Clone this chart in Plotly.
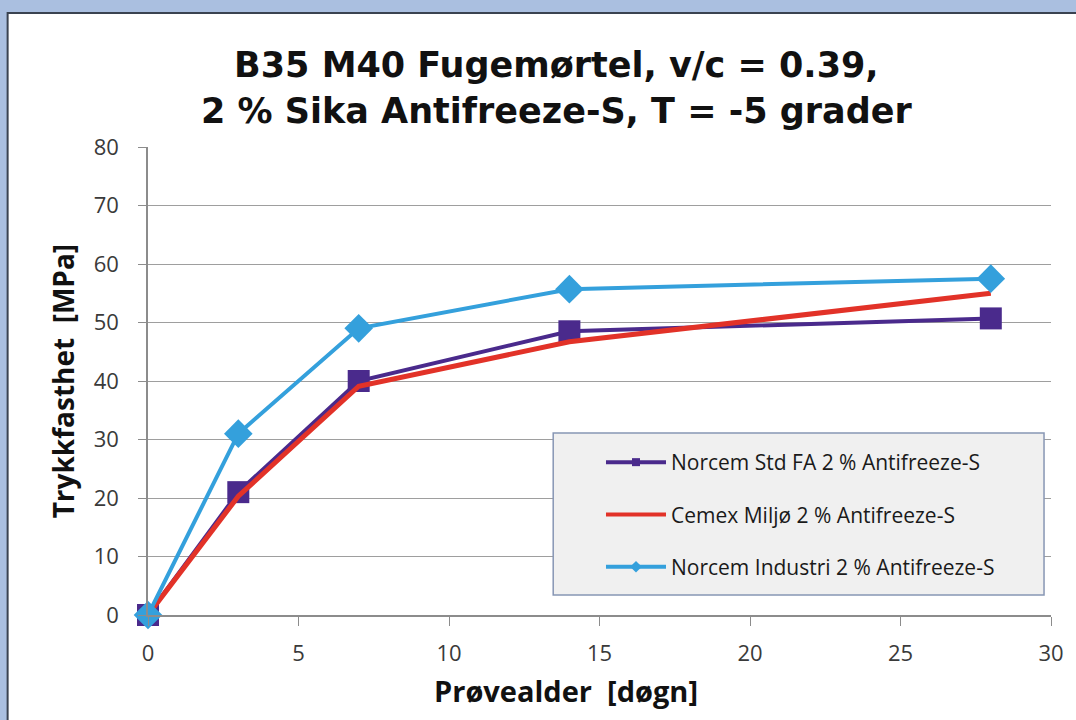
import plotly.graph_objects as go

days = [0, 3, 7, 14, 28]
norcem_std_fa = [0, 21.0, 40.0, 48.5, 50.7]
cemex_miljo = [0, 20.3, 39.1, 46.7, 55.0]
norcem_industri = [0, 31.0, 49.0, 55.7, 57.5]

names = ["Norcem Std FA 2 % Antifreeze-S",
         "Cemex Miljø 2 % Antifreeze-S",
         "Norcem Industri 2 % Antifreeze-S"]
title_lines = ["B35 M40 Fugemørtel, v/c = 0.39,",
               "2 % Sika Antifreeze-S, T = -5 grader"]
x_title = "Prøvealder  [døgn]"
y_title = "Trykkfasthet  [MPa]"
colors = ["#4A2A8C", "#E23228", "#34A0DC"]

FONT = "Open Sans"
TITLE_FONT = "DejaVu Sans"
fig = go.Figure()

# plotted series (no legend)
fig.add_trace(go.Scatter(x=days, y=norcem_std_fa, mode="lines+markers",
                         line=dict(color=colors[0], width=4),
                         marker=dict(symbol="square", size=22, color=colors[0]),
                         showlegend=False, cliponaxis=False))
fig.add_trace(go.Scatter(x=days, y=cemex_miljo, mode="lines",
                         line=dict(color=colors[1], width=5),
                         showlegend=False, cliponaxis=False))
fig.add_trace(go.Scatter(x=days, y=norcem_industri, mode="lines+markers",
                         line=dict(color=colors[2], width=4),
                         marker=dict(symbol="diamond", size=22, color=colors[2]),
                         showlegend=False, cliponaxis=False))

# legend entries
fig.add_trace(go.Scatter(x=[None], y=[None], mode="lines+markers", name=names[0],
                         legendgroup="a",
                         line=dict(color=colors[0], width=4),
                         marker=dict(symbol="square", size=8, color=colors[0])))
fig.add_trace(go.Scatter(x=[None], y=[None], mode="lines", name=names[1],
                         legendgroup="b",
                         line=dict(color=colors[1], width=4)))
fig.add_trace(go.Scatter(x=[None], y=[None], mode="lines+markers", name=names[2],
                         legendgroup="c",
                         line=dict(color=colors[2], width=4),
                         marker=dict(symbol="diamond", size=9, color=colors[2])))

L, R, T, B = 148, 21, 147, 105
W, H = 1076, 720
pw, ph = W - L - R, H - T - B

def px(x):
    return (x - L) / pw

def py(y):
    return (H - B - y) / ph

shapes = [
    # white chart frame over blue background
    dict(type="rect", xref="paper", yref="paper", layer="below",
         x0=px(7), x1=px(1090), y0=py(735), y1=py(13),
         fillcolor="white", line=dict(color="#3A4250", width=2)),
    # legend box
    dict(type="rect", xref="paper", yref="paper", layer="above",
         x0=px(555), x1=px(1048), y0=py(595), y1=py(433),
         fillcolor="rgba(240,240,240,1)", line=dict(color="#8796B4", width=1.5)),
]

annotations = [
    dict(text="<b>%s<br>%s</b>" % (title_lines[0], title_lines[1]), xref="paper", yref="paper",
         x=px(558), y=py(88), xanchor="center", yanchor="middle", showarrow=False,
         align="center", font=dict(family=TITLE_FONT, size=35, color="#111111")),
    dict(text="<b>%s</b>" % x_title, xref="paper", yref="paper",
         x=px(568), y=py(690), xanchor="center", yanchor="middle", showarrow=False,
         font=dict(family=FONT, size=29, color="#111111")),
    dict(text="<b>%s</b>" % y_title, xref="paper", yref="paper", textangle=-90,
         x=px(63), y=py(381), xanchor="center", yanchor="middle", showarrow=False,
         font=dict(family=FONT, size=28, color="#111111")),
]

fig.update_layout(
    width=W, height=H,
    margin=dict(l=L, r=R, t=T, b=B),
    paper_bgcolor="#AABFE0",
    plot_bgcolor="white",
    shapes=shapes,
    annotations=annotations,
    xaxis=dict(range=[0, 30], dtick=5, showgrid=False, zeroline=False,
               showline=True, linecolor="#8C8C8C", linewidth=1.5,
               ticks="outside", ticklen=9, tickcolor="#8C8C8C", ticklabelstandoff=9,
               tickfont=dict(family=FONT, size=22, color="#3A3A3A")),
    yaxis=dict(range=[0, 80], dtick=10, showgrid=True, gridcolor="#9E9E9E", gridwidth=1.3,
               zeroline=False, showline=True, linecolor="#8C8C8C", linewidth=1.5,
               ticks="outside", ticklen=8, tickcolor="#8C8C8C", ticklabelstandoff=15,
               tickfont=dict(family=FONT, size=22, color="#3A3A3A")),
    legend=dict(x=px(603), y=py(442), xanchor="left", yanchor="top",
                bgcolor="rgba(0,0,0,0)", borderwidth=0,
                font=dict(family=FONT, size=21, color="#1A1A1A"),
                tracegroupgap=22, itemwidth=60),
)

fig.write_html("out.html", config={"displayModeBar": False},
               post_script="document.body.style.margin='0px';")
